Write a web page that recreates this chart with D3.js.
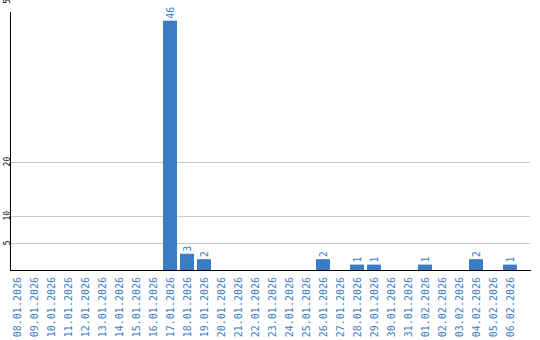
<!DOCTYPE html>
<html>
<head>
<meta charset="utf-8">
<script src="https://cdn.jsdelivr.net/npm/d3@7"></script>
<style>
  body { margin: 0; background: #fff; }
  svg { display: block; }
</style>
</head>
<body>
<svg></svg>
<script>
var WIDTH = 540;
var HEIGHT = 340;

// data
var dates = [
  "08.01.2026", "09.01.2026", "10.01.2026", "11.01.2026", "12.01.2026",
  "13.01.2026", "14.01.2026", "15.01.2026", "16.01.2026", "17.01.2026",
  "18.01.2026", "19.01.2026", "20.01.2026", "21.01.2026", "22.01.2026",
  "23.01.2026", "24.01.2026", "25.01.2026", "26.01.2026", "27.01.2026",
  "28.01.2026", "29.01.2026", "30.01.2026", "31.01.2026", "01.02.2026",
  "02.02.2026", "03.02.2026", "04.02.2026", "05.02.2026", "06.02.2026"
];
var counts = [0, 0, 0, 0, 0, 0, 0, 0, 0, 46, 3, 2, 0, 0, 0, 0, 0, 0, 2, 0, 1, 1, 0, 0, 1, 0, 0, 2, 0, 1];
var yTicks = [5, 10, 20, 50];

var BLUE = "#3b7dc4";
var FONT = "DejaVu Sans Mono, monospace";
var base = 270;

var svg = d3.select("svg").attr("width", WIDTH).attr("height", HEIGHT);

var x = d3.scaleBand().domain(dates).range([8.5, 518.5]).paddingInner(3 / 17).paddingOuter(1.5 / 17);
var y = d3.scaleLinear().domain([0, 50]).range([base, -1]);

//gridlines
svg.append("g")
  .selectAll("line")
  .data(yTicks)
  .enter()
  .append("line")
  .attr("x1", 11)
  .attr("x2", 530)
  .attr("y1", function (d) { return Math.round(y(d)) + 0.5; })
  .attr("y2", function (d) { return Math.round(y(d)) + 0.5; })
  .style("stroke", "#c8c8c8")
  .style("stroke-width", "1px");

//y tick labels (top one sits at the edge, half cut as in the original)
svg.append("g")
  .selectAll("text")
  .data(yTicks)
  .enter()
  .append("text")
  .attr("transform", function (d) { return "translate(7," + y(d) + ") rotate(-90)"; })
  .attr("text-anchor", "middle")
  .attr("dominant-baseline", "central")
  .style("font-family", FONT)
  .style("font-size", "8px")
  .style("fill", "#000")
  .text(function (d) { return d; });

//bars and value labels
var bars = svg.append("g")
  .selectAll("g")
  .data(counts.map(function (v, i) { return { date: dates[i], value: v }; })
    .filter(function (d) { return d.value > 0; }))
  .enter()
  .append("g");

bars.append("rect")
  .attr("x", function (d) { return x(d.date); })
  .attr("width", x.bandwidth())
  .attr("y", function (d) { return y(d.value); })
  .attr("height", function (d) { return base - y(d.value); })
  .style("fill", BLUE);

bars.append("text")
  .attr("transform", function (d) {
    return "translate(" + (x(d.date) + x.bandwidth() / 2) + "," + (y(d.value) - 2) + ") rotate(-90)";
  })
  .attr("text-anchor", "start")
  .attr("dominant-baseline", "central")
  .style("font-family", FONT)
  .style("font-size", "10px")
  .style("fill", BLUE)
  .text(function (d) { return d.value; });

//axis lines
svg.append("line")
  .attr("x1", 10.5).attr("x2", 10.5)
  .attr("y1", 12).attr("y2", base + 1)
  .style("stroke", "#000");
svg.append("line")
  .attr("x1", 10).attr("x2", 531)
  .attr("y1", base + 0.5).attr("y2", base + 0.5)
  .style("stroke", "#000");

//x labels
svg.append("g")
  .selectAll("text")
  .data(dates)
  .enter()
  .append("text")
  .attr("transform", function (d) { return "translate(" + (x(d) + x.bandwidth() / 2) + "," + (base + 7) + ") rotate(-90)"; })
  .attr("text-anchor", "end")
  .attr("dominant-baseline", "central")
  .style("font-family", FONT)
  .style("font-size", "10px")
  .style("fill", BLUE)
  .text(function (d) { return d; });
</script>
</body>
</html>
